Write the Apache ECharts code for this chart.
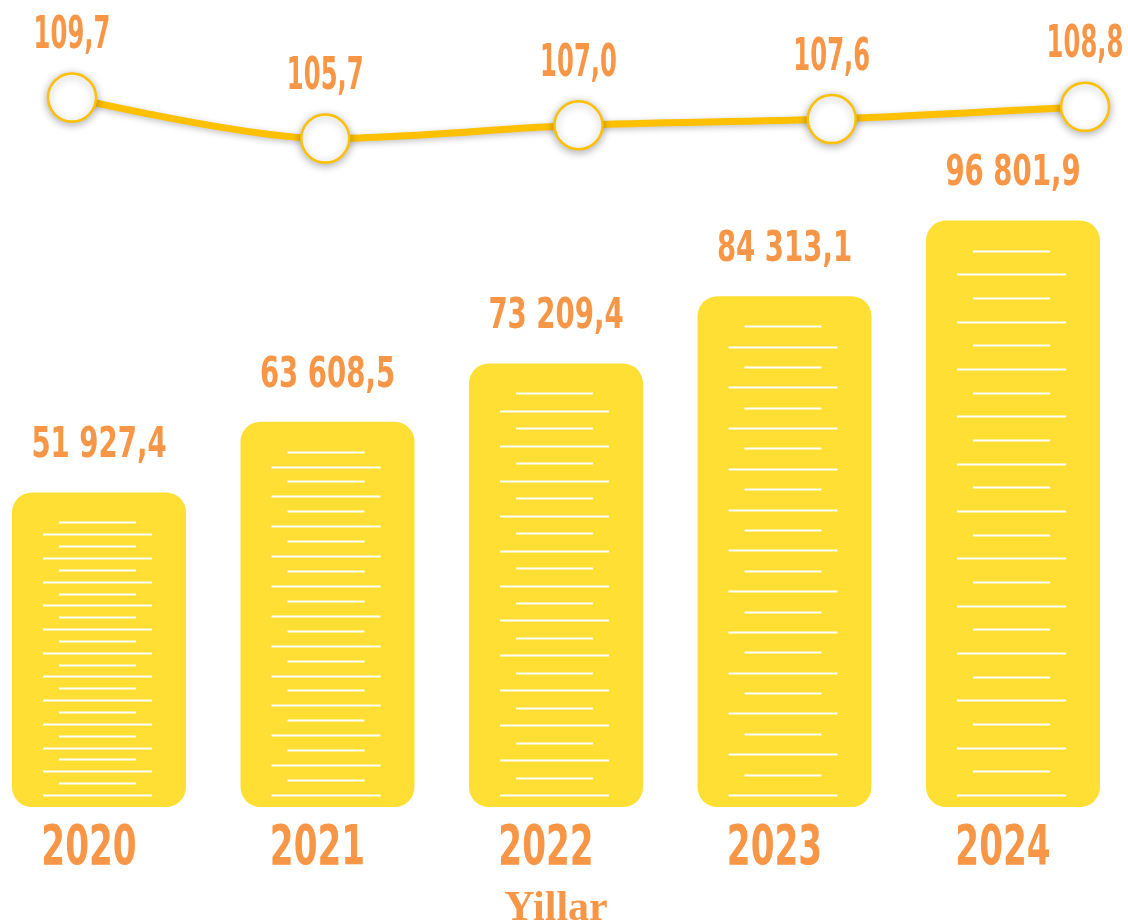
<!DOCTYPE html>
<html>
<head>
<meta charset="utf-8">
<script src="https://cdn.jsdelivr.net/npm/echarts@6/dist/echarts.min.js"></script>
<style>
  html, body { margin: 0; padding: 0; background: #fff; }
  #chart { width: 1128px; height: 923px; }
</style>
</head>
<body>
<div id="chart"></div>
<script>
const years = ['2020', '2021', '2022', '2023', '2024']
const volume = [51927.4, 63608.5, 73209.4, 84313.1, 96801.9]
const growth = [109.7, 105.7, 107.0, 107.6, 108.8]

const orange = '#F79646'
const yellow = '#FFDF33'
const gold = '#FFC000'
const narrow = '"DejaVu Sans Condensed", "DejaVu Sans", sans-serif'

// 51927.4 -> "51 927,4"
const fmt = (v) => {
    const parts = v.toFixed(1).split('.')
    return parts[0].replace(/\B(?=(\d{3})+(?!\d))/g, ' ') + ',' + parts[1]
}

// condensed text, squeezed horizontally like the original display font
const squeezed = (text, x, y, size, sx) => ({
    type: 'text',
    x: x,
    y: y,
    scaleX: sx,
    style: {
        text: text,
        fill: orange,
        font: 'bold ' + size + 'px ' + narrow,
        align: 'center',
        verticalAlign: 'middle'
    }
})

const renderBar = (params, api) => {
    const top = api.coord([api.value(0), api.value(1)])
    const base = api.coord([api.value(0), 0])
    const w = 174
    const cx = top[0]
    const h = base[1] - top[1]
    const children = [{
        type: 'rect',
        shape: { x: cx - w / 2, y: top[1], width: w, height: h, r: 20 },
        style: { fill: yellow }
    }]
    // white stripes inside the bar, short / long in turn
    const n = 24
    const first = top[1] + 30
    const last = base[1] - 12
    const step = (last - first) / (n - 1)
    for (let i = 0; i < n; i++) {
        const half = i % 2 === 0 ? 38.5 : 54.5
        const y = Math.round(first + i * step) + 0.5
        children.push({
            type: 'line',
            shape: { x1: cx - 1.5 - half, y1: y, x2: cx - 1.5 + half, y2: y },
            style: { stroke: '#fff', lineWidth: 2 }
        })
    }
    children.push(squeezed(fmt(api.value(1)), cx, top[1] - 46, 42, 0.73))
    children.push(squeezed(years[params.dataIndex], cx - 10, base[1] + 42, 56, 0.68))
    return { type: 'group', children }
}

const renderGrowthLabel = (params, api) => {
    const p = api.coord([api.value(0), api.value(1)])
    const txt = api.value(1).toFixed(1).replace('.', ',')
    return squeezed(txt, p[0], p[1] - 61, 45, 0.6)
}

const chart = echarts.init(document.getElementById('chart'))
chart.setOption({
    backgroundColor: '#fff',
    animation: false,
    grid: [
        { left: 99, right: 115, top: 80, bottom: 116, containLabel: false, outerBoundsMode: 'none' },
        { left: 72, right: 43, top: 33, height: 164, containLabel: false, outerBoundsMode: 'none' }
    ],
    xAxis: [
        {
            type: 'category',
            gridIndex: 0,
            data: years,
            boundaryGap: false,
            axisLine: { show: false },
            axisTick: { show: false },
            axisLabel: { show: false },
            name: 'Yillar',
            nameLocation: 'middle',
            nameGap: 81,
            nameTextStyle: {
                color: orange,
                fontFamily: '"Liberation Serif", "DejaVu Serif", serif',
                fontWeight: 'bold',
                fontSize: 42
            }
        },
        {
            type: 'category',
            gridIndex: 1,
            data: years,
            boundaryGap: false,
            show: false
        }
    ],
    yAxis: [
        { type: 'value', gridIndex: 0, min: 0, max: 120000, show: false },
        { type: 'value', gridIndex: 1, min: 100, max: 116, show: false }
    ],
    series: [
        {
            name: 'volume',
            type: 'custom',
            xAxisIndex: 0,
            yAxisIndex: 0,
            clip: false,
            renderItem: renderBar,
            encode: { x: 0, y: 1 },
            data: years.map((y, i) => [i, volume[i]])
        },
        {
            name: 'growth',
            type: 'line',
            xAxisIndex: 1,
            yAxisIndex: 1,
            data: growth,
            smooth: 0.3,
            symbol: 'circle',
            symbolSize: 48,
            z: 5,
            lineStyle: {
                color: gold,
                width: 7,
                shadowColor: 'rgba(0,0,0,0.25)',
                shadowBlur: 6,
                shadowOffsetY: 2
            },
            itemStyle: {
                color: '#fff',
                borderColor: gold,
                borderWidth: 2.5,
                shadowColor: 'rgba(0,0,0,0.3)',
                shadowBlur: 8,
                shadowOffsetY: 2
            }
        },
        {
            name: 'growth-labels',
            type: 'custom',
            xAxisIndex: 1,
            yAxisIndex: 1,
            clip: false,
            z: 6,
            renderItem: renderGrowthLabel,
            encode: { x: 0, y: 1 },
            data: growth.map((g, i) => [i, g])
        }
    ]
})
window.addEventListener('resize', () => chart.resize())
</script>
</body>
</html>
